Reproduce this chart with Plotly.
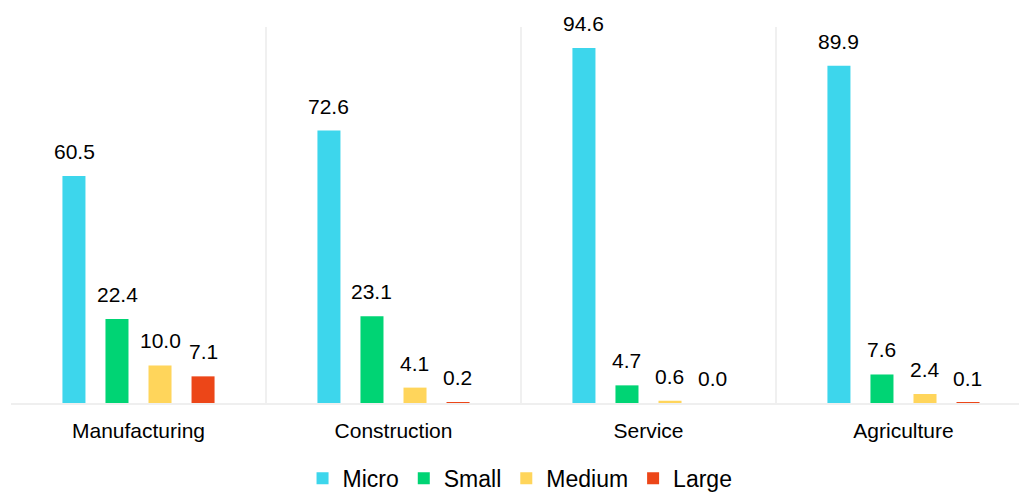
import plotly.graph_objects as go

# Share of enterprises by size class within each sector (%)
sectors = ["Manufacturing", "Construction", "Service", "Agriculture"]
micro = [60.5, 72.6, 94.6, 89.9]
small = [22.4, 23.1, 4.7, 7.6]
medium = [10.0, 4.1, 0.6, 2.4]
large = [7.1, 0.2, 0.0, 0.1]

series = [
    ("Micro", micro, "#3DD6EC"),
    ("Small", small, "#00D474"),
    ("Medium", medium, "#FFD55B"),
    ("Large", large, "#EC4618"),
]

FONT = "Liberation Sans, Arial, sans-serif"
SLOT_PX = 43  # horizontal distance between neighbouring bars of a group

fig = go.Figure()
for name, vals, color in series:
    fig.add_trace(go.Bar(
        name=name, x=sectors, y=vals,
        marker=dict(color=color, line=dict(width=0)),
    ))

# value labels sitting above each bar
annotations = []
n = len(series)
for k, (name, vals, color) in enumerate(series):
    for cat, v in zip(sectors, vals):
        annotations.append(dict(
            x=cat, y=v, xref="x", yref="y",
            text=f"{v:.1f}", showarrow=False,
            xanchor="center", yanchor="bottom",
            xshift=(k - (n - 1) / 2) * SLOT_PX, yshift=11,
            font=dict(family=FONT, size=21, color="#000000"),
        ))

fig.update_layout(
    width=1019, height=492,
    margin=dict(l=11, r=0, t=27, b=89, autoexpand=False),
    paper_bgcolor="white", plot_bgcolor="white",
    barmode="group", bargap=0.325, bargroupgap=0.465,
    annotations=annotations,
    showlegend=True,
    legend=dict(
        orientation="h", x=0.505, xanchor="center",
        yref="container", y=0.028, yanchor="middle",
        font=dict(family=FONT, size=23, color="#000000"),
        itemwidth=30, traceorder="normal",
    ),
    xaxis=dict(
        type="category", range=[-0.5, 3.453],
        tickson="boundaries", ticks="", showgrid=True,
        gridcolor="#F0F0F0", gridwidth=1.5,
        showline=True, linecolor="#EFEFEF", linewidth=2,
        tickfont=dict(family=FONT, size=21, color="#000000"),
        ticklabelstandoff=8,
    ),
    yaxis=dict(
        range=[0, 100.2], visible=False, showgrid=False, zeroline=False,
    ),
)

fig.write_html("out.html")
